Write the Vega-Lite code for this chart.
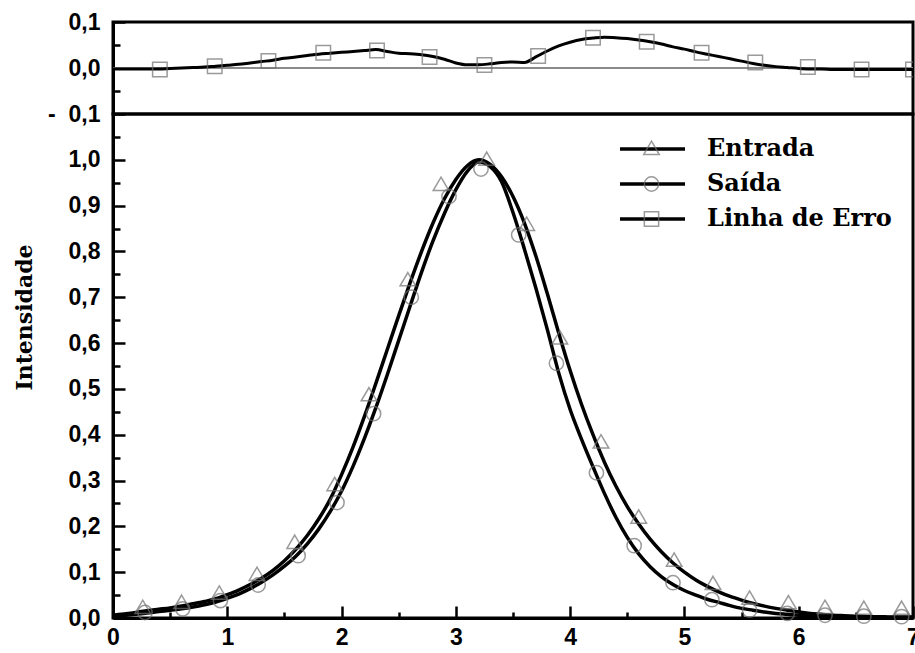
{
  "$schema": "https://vega.github.io/schema/vega-lite/v6.json",
  "background": "white",
  "padding": {"left": 11, "top": 9, "right": 4, "bottom": 2},
  "spacing": 0,
  "bounds": "flush",
  "datasets": {
    "curves": [
      {"x":0.0,"serie":"Entrada","y":0.006},{"x":0.1,"serie":"Entrada","y":0.009},{"x":0.2,"serie":"Entrada","y":0.012},{"x":0.3,"serie":"Entrada","y":0.016},{"x":0.4,"serie":"Entrada","y":0.019},{"x":0.5,"serie":"Entrada","y":0.022},{"x":0.6,"serie":"Entrada","y":0.026},{"x":0.7,"serie":"Entrada","y":0.031},{"x":0.8,"serie":"Entrada","y":0.036},{"x":0.9,"serie":"Entrada","y":0.042},
      {"x":1.0,"serie":"Entrada","y":0.051},{"x":1.1,"serie":"Entrada","y":0.061},{"x":1.2,"serie":"Entrada","y":0.073},{"x":1.3,"serie":"Entrada","y":0.087},{"x":1.4,"serie":"Entrada","y":0.104},{"x":1.5,"serie":"Entrada","y":0.125},{"x":1.6,"serie":"Entrada","y":0.150},{"x":1.7,"serie":"Entrada","y":0.180},{"x":1.8,"serie":"Entrada","y":0.216},{"x":1.9,"serie":"Entrada","y":0.259},
      {"x":2.0,"serie":"Entrada","y":0.313},{"x":2.1,"serie":"Entrada","y":0.373},{"x":2.2,"serie":"Entrada","y":0.440},{"x":2.3,"serie":"Entrada","y":0.512},{"x":2.4,"serie":"Entrada","y":0.586},{"x":2.5,"serie":"Entrada","y":0.660},{"x":2.6,"serie":"Entrada","y":0.732},{"x":2.7,"serie":"Entrada","y":0.800},{"x":2.8,"serie":"Entrada","y":0.862},{"x":2.9,"serie":"Entrada","y":0.915},
      {"x":3.0,"serie":"Entrada","y":0.957},{"x":3.1,"serie":"Entrada","y":0.987},{"x":3.2,"serie":"Entrada","y":1.000},{"x":3.3,"serie":"Entrada","y":0.990},{"x":3.4,"serie":"Entrada","y":0.963},{"x":3.5,"serie":"Entrada","y":0.920},{"x":3.6,"serie":"Entrada","y":0.862},{"x":3.7,"serie":"Entrada","y":0.790},{"x":3.8,"serie":"Entrada","y":0.708},{"x":3.9,"serie":"Entrada","y":0.622},
      {"x":4.0,"serie":"Entrada","y":0.540},{"x":4.1,"serie":"Entrada","y":0.466},{"x":4.2,"serie":"Entrada","y":0.400},{"x":4.3,"serie":"Entrada","y":0.340},{"x":4.4,"serie":"Entrada","y":0.288},{"x":4.5,"serie":"Entrada","y":0.243},{"x":4.6,"serie":"Entrada","y":0.205},{"x":4.7,"serie":"Entrada","y":0.172},{"x":4.8,"serie":"Entrada","y":0.144},{"x":4.9,"serie":"Entrada","y":0.120},
      {"x":5.0,"serie":"Entrada","y":0.100},{"x":5.1,"serie":"Entrada","y":0.083},{"x":5.2,"serie":"Entrada","y":0.069},{"x":5.3,"serie":"Entrada","y":0.057},{"x":5.4,"serie":"Entrada","y":0.047},{"x":5.5,"serie":"Entrada","y":0.039},{"x":5.6,"serie":"Entrada","y":0.032},{"x":5.7,"serie":"Entrada","y":0.026},{"x":5.8,"serie":"Entrada","y":0.021},{"x":5.9,"serie":"Entrada","y":0.017},
      {"x":6.0,"serie":"Entrada","y":0.013},{"x":6.1,"serie":"Entrada","y":0.010},{"x":6.2,"serie":"Entrada","y":0.008},{"x":6.3,"serie":"Entrada","y":0.006},{"x":6.4,"serie":"Entrada","y":0.005},{"x":6.5,"serie":"Entrada","y":0.004},{"x":6.6,"serie":"Entrada","y":0.003},{"x":6.7,"serie":"Entrada","y":0.003},{"x":6.8,"serie":"Entrada","y":0.002},{"x":6.9,"serie":"Entrada","y":0.002},{"x":7.0,"serie":"Entrada","y":0.002},
      {"x":0.0,"serie":"Saída","y":0.004},{"x":0.1,"serie":"Saída","y":0.006},{"x":0.2,"serie":"Saída","y":0.008},{"x":0.3,"serie":"Saída","y":0.011},{"x":0.4,"serie":"Saída","y":0.014},{"x":0.5,"serie":"Saída","y":0.017},{"x":0.6,"serie":"Saída","y":0.020},{"x":0.7,"serie":"Saída","y":0.024},{"x":0.8,"serie":"Saída","y":0.029},{"x":0.9,"serie":"Saída","y":0.035},
      {"x":1.0,"serie":"Saída","y":0.043},{"x":1.1,"serie":"Saída","y":0.052},{"x":1.2,"serie":"Saída","y":0.064},{"x":1.3,"serie":"Saída","y":0.078},{"x":1.4,"serie":"Saída","y":0.094},{"x":1.5,"serie":"Saída","y":0.113},{"x":1.6,"serie":"Saída","y":0.135},{"x":1.7,"serie":"Saída","y":0.162},{"x":1.8,"serie":"Saída","y":0.194},{"x":1.9,"serie":"Saída","y":0.232},
      {"x":2.0,"serie":"Saída","y":0.277},{"x":2.1,"serie":"Saída","y":0.331},{"x":2.2,"serie":"Saída","y":0.392},{"x":2.3,"serie":"Saída","y":0.459},{"x":2.4,"serie":"Saída","y":0.531},{"x":2.5,"serie":"Saída","y":0.606},{"x":2.6,"serie":"Saída","y":0.681},{"x":2.7,"serie":"Saída","y":0.755},{"x":2.8,"serie":"Saída","y":0.823},{"x":2.9,"serie":"Saída","y":0.883},
      {"x":3.0,"serie":"Saída","y":0.935},{"x":3.1,"serie":"Saída","y":0.975},{"x":3.2,"serie":"Saída","y":0.995},{"x":3.3,"serie":"Saída","y":0.985},{"x":3.4,"serie":"Saída","y":0.952},{"x":3.5,"serie":"Saída","y":0.885},{"x":3.6,"serie":"Saída","y":0.805},{"x":3.7,"serie":"Saída","y":0.720},{"x":3.8,"serie":"Saída","y":0.630},{"x":3.9,"serie":"Saída","y":0.535},
      {"x":4.0,"serie":"Saída","y":0.455},{"x":4.1,"serie":"Saída","y":0.390},{"x":4.2,"serie":"Saída","y":0.330},{"x":4.3,"serie":"Saída","y":0.272},{"x":4.4,"serie":"Saída","y":0.220},{"x":4.5,"serie":"Saída","y":0.176},{"x":4.6,"serie":"Saída","y":0.140},{"x":4.7,"serie":"Saída","y":0.112},{"x":4.8,"serie":"Saída","y":0.090},{"x":4.9,"serie":"Saída","y":0.073},
      {"x":5.0,"serie":"Saída","y":0.060},{"x":5.1,"serie":"Saída","y":0.050},{"x":5.2,"serie":"Saída","y":0.041},{"x":5.3,"serie":"Saída","y":0.034},{"x":5.4,"serie":"Saída","y":0.027},{"x":5.5,"serie":"Saída","y":0.021},{"x":5.6,"serie":"Saída","y":0.017},{"x":5.7,"serie":"Saída","y":0.013},{"x":5.8,"serie":"Saída","y":0.010},{"x":5.9,"serie":"Saída","y":0.008},
      {"x":6.0,"serie":"Saída","y":0.006},{"x":6.1,"serie":"Saída","y":0.005},{"x":6.2,"serie":"Saída","y":0.004},{"x":6.3,"serie":"Saída","y":0.003},{"x":6.4,"serie":"Saída","y":0.002},{"x":6.5,"serie":"Saída","y":0.002},{"x":6.6,"serie":"Saída","y":0.002},{"x":6.7,"serie":"Saída","y":0.001},{"x":6.8,"serie":"Saída","y":0.001},{"x":6.9,"serie":"Saída","y":0.001},{"x":7.0,"serie":"Saída","y":0.001}
    ],
    "markers": [
      {"x":0.26,"serie":"Entrada","y":0.022},{"x":0.6,"serie":"Entrada","y":0.033},{"x":0.93,"serie":"Entrada","y":0.053},{"x":1.26,"serie":"Entrada","y":0.094},{"x":1.59,"serie":"Entrada","y":0.164},{"x":1.94,"serie":"Entrada","y":0.29},{"x":2.24,"serie":"Entrada","y":0.486},{"x":2.58,"serie":"Entrada","y":0.737},{"x":2.87,"serie":"Entrada","y":0.945},{"x":3.27,"serie":"Entrada","y":1.0},{"x":3.62,"serie":"Entrada","y":0.858},
      {"x":3.91,"serie":"Entrada","y":0.61},{"x":4.27,"serie":"Entrada","y":0.383},{"x":4.6,"serie":"Entrada","y":0.219},{"x":4.91,"serie":"Entrada","y":0.125},{"x":5.25,"serie":"Entrada","y":0.074},{"x":5.57,"serie":"Entrada","y":0.042},{"x":5.91,"serie":"Entrada","y":0.032},{"x":6.23,"serie":"Entrada","y":0.022},{"x":6.57,"serie":"Entrada","y":0.02},{"x":6.9,"serie":"Entrada","y":0.02},
      {"x":0.28,"serie":"Saída","y":0.012},{"x":0.61,"serie":"Saída","y":0.02},{"x":0.94,"serie":"Saída","y":0.038},{"x":1.27,"serie":"Saída","y":0.072},{"x":1.62,"serie":"Saída","y":0.136},{"x":1.96,"serie":"Saída","y":0.252},{"x":2.28,"serie":"Saída","y":0.446},{"x":2.61,"serie":"Saída","y":0.70},{"x":2.94,"serie":"Saída","y":0.92},{"x":3.22,"serie":"Saída","y":0.98},{"x":3.55,"serie":"Saída","y":0.836},
      {"x":3.88,"serie":"Saída","y":0.556},{"x":4.23,"serie":"Saída","y":0.317},{"x":4.56,"serie":"Saída","y":0.158},{"x":4.9,"serie":"Saída","y":0.077},{"x":5.24,"serie":"Saída","y":0.04},{"x":5.57,"serie":"Saída","y":0.017},{"x":5.9,"serie":"Saída","y":0.01},{"x":6.23,"serie":"Saída","y":0.006},{"x":6.57,"serie":"Saída","y":0.004},{"x":6.9,"serie":"Saída","y":0.003}
    ],
    "erro": [
      {"x":0.0,"y":-0.002},{"x":0.1,"y":-0.002},{"x":0.2,"y":-0.002},{"x":0.3,"y":-0.002},{"x":0.4,"y":-0.002},{"x":0.5,"y":-0.001},{"x":0.6,"y":0.0},{"x":0.7,"y":0.001},{"x":0.8,"y":0.002},{"x":0.9,"y":0.004},
      {"x":1.0,"y":0.006},{"x":1.1,"y":0.008},{"x":1.2,"y":0.011},{"x":1.3,"y":0.014},{"x":1.4,"y":0.017},{"x":1.5,"y":0.021},{"x":1.6,"y":0.024},{"x":1.7,"y":0.027},{"x":1.8,"y":0.030},{"x":1.9,"y":0.032},
      {"x":2.0,"y":0.034},{"x":2.1,"y":0.036},{"x":2.2,"y":0.038},{"x":2.3,"y":0.040},{"x":2.4,"y":0.036},{"x":2.5,"y":0.032},{"x":2.6,"y":0.031},{"x":2.7,"y":0.029},{"x":2.8,"y":0.025},{"x":2.9,"y":0.019},
      {"x":3.0,"y":0.011},{"x":3.1,"y":0.007},{"x":3.2,"y":0.007},{"x":3.3,"y":0.009},{"x":3.4,"y":0.012},{"x":3.5,"y":0.013},{"x":3.6,"y":0.012},{"x":3.7,"y":0.024},{"x":3.8,"y":0.037},{"x":3.9,"y":0.048},
      {"x":4.0,"y":0.056},{"x":4.1,"y":0.062},{"x":4.2,"y":0.065},{"x":4.3,"y":0.067},{"x":4.4,"y":0.066},{"x":4.5,"y":0.064},{"x":4.6,"y":0.061},{"x":4.7,"y":0.057},{"x":4.8,"y":0.052},{"x":4.9,"y":0.046},
      {"x":5.0,"y":0.041},{"x":5.1,"y":0.035},{"x":5.2,"y":0.030},{"x":5.3,"y":0.025},{"x":5.4,"y":0.020},{"x":5.5,"y":0.015},{"x":5.6,"y":0.010},{"x":5.7,"y":0.006},{"x":5.8,"y":0.003},{"x":5.9,"y":0.001},
      {"x":6.0,"y":-0.001},{"x":6.1,"y":-0.002},{"x":6.2,"y":-0.002},{"x":6.3,"y":-0.003},{"x":6.4,"y":-0.003},{"x":6.5,"y":-0.003},{"x":6.6,"y":-0.003},{"x":6.7,"y":-0.003},{"x":6.8,"y":-0.003},{"x":6.9,"y":-0.003},{"x":7.0,"y":-0.003}
    ],
    "erroMarkers": [
      {"x":0.41,"y":-0.003},{"x":0.89,"y":0.004},{"x":1.36,"y":0.015},{"x":1.84,"y":0.033},{"x":2.31,"y":0.038},{"x":2.77,"y":0.024},{"x":3.25,"y":0.0065},{"x":3.72,"y":0.026},
      {"x":4.2,"y":0.066},{"x":4.67,"y":0.057},{"x":5.15,"y":0.033},{"x":5.62,"y":0.012},{"x":6.08,"y":0.002},{"x":6.55,"y":-0.003},{"x":7.0,"y":-0.003}
    ],
    "zero": [{"ref": 0}]
  },
  "config": {
    "view": {"stroke": "black", "strokeWidth": 3},
    "axis": {
      "domainColor": "black", "domainWidth": 3, "tickColor": "black", "tickWidth": 2.5,
      "labelColor": "black", "labelFont": "Liberation Sans", "labelFontWeight": "bold", "labelFontSize": 23,
      "labelFlush": false, "labelOverlap": false, "grid": false, "zindex": 1,
      "titleFont": "DejaVu Serif", "titleFontWeight": "bold", "titleFontSize": 22, "titleColor": "black"
    }
  },
  "resolve": {"scale": {"x": "independent", "y": "independent"}, "legend": {"color": "independent", "shape": "independent"}},
  "vconcat": [
    {
      "width": 800,
      "height": 92,
      "resolve": {"scale": {"y": "independent"}, "axis": {"y": "independent"}},
      "layer": [
        {
          "data": {"name": "zero"},
          "mark": {"type": "rule", "color": "#8a8a8a", "strokeWidth": 2},
          "encoding": {
            "y": {"field": "ref", "type": "quantitative", "scale": {"domain": [-0.1, 0.1], "nice": false, "zero": false}, "axis": null}
          }
        },
        {
          "data": {"name": "erro"},
          "mark": {"type": "line", "color": "black", "strokeWidth": 3, "interpolate": "monotone"},
          "encoding": {
            "x": {"field": "x", "type": "quantitative", "scale": {"domain": [0, 7], "nice": false, "zero": false}, "axis": null},
            "y": {"field": "y", "type": "quantitative", "scale": {"domain": [-0.1, 0.1], "nice": false, "zero": false},
              "axis": {"orient": "left", "values": [-0.1, 0, 0.1], "tickSize": -12, "labelPadding": 25, "title": null,
                "labelExpr": "datum.value < 0 ? '-\u00a0\u00a0' + replace(format(-datum.value, '.1f'), '.', ',') : replace(format(datum.value, '.1f'), '.', ',')"}}
          }
        },
        {
          "data": {"name": "erroMarkers"},
          "mark": {"type": "point", "shape": "square", "size": 210, "filled": false, "stroke": "#707070", "strokeWidth": 1.5, "clip": true},
          "encoding": {
            "x": {"field": "x", "type": "quantitative", "scale": {"domain": [0, 7], "nice": false, "zero": false}, "axis": null},
            "y": {"field": "y", "type": "quantitative", "scale": {"domain": [-0.1, 0.1], "nice": false, "zero": false},
              "axis": {"orient": "left", "values": [-0.05, 0.05], "labels": false, "domain": false, "tickSize": -7, "title": null}}
          }
        }
      ]
    },
    {
      "width": 800,
      "height": 504,
      "resolve": {"scale": {"x": "independent", "y": "independent"}, "axis": {"x": "independent", "y": "independent"}},
      "layer": [
        {
          "data": {"name": "curves"},
          "mark": {"type": "line", "strokeWidth": 3.5, "interpolate": "monotone"},
          "encoding": {
            "x": {"field": "x", "type": "quantitative", "scale": {"domain": [0, 7], "nice": false, "zero": false},
              "axis": {"orient": "bottom", "values": [0, 1, 2, 3, 4, 5, 6, 7], "tickSize": -12, "labelPadding": 20, "format": "d", "title": null}},
            "y": {"field": "y", "type": "quantitative", "scale": {"domain": [0, 1.1], "nice": false, "zero": false},
              "axis": {"orient": "left", "values": [0, 0.1, 0.2, 0.3, 0.4, 0.5, 0.6, 0.7, 0.8, 0.9, 1.0], "tickSize": -12, "labelPadding": 25,
                "labelExpr": "replace(format(datum.value, '.1f'), '.', ',')",
                "title": "Intensidade", "titleX": -89, "titleY": 203, "titleAngle": 270, "titleAlign": "center", "titleBaseline": "middle"}},
            "color": {"field": "serie", "type": "nominal",
              "scale": {"domain": ["Saída", "Entrada", "Linha de Erro"], "range": ["black", "black", "black"]},
              "legend": {"title": null, "orient": "none", "legendX": 505, "legendY": 23, "padding": 0,
                "values": ["Entrada", "Saída", "Linha de Erro"],
                "symbolType": "stroke", "symbolSize": 4225, "symbolStrokeWidth": 3.5, "symbolStrokeColor": "black",
                "labelFont": "DejaVu Serif", "labelFontWeight": "bold", "labelFontSize": 24, "labelColor": "black",
                "labelOffset": 20, "labelLimit": 400, "clipHeight": 24, "rowPadding": 11}}
          }
        },
        {
          "data": {"name": "markers"},
          "mark": {"type": "point", "size": 4225, "filled": false, "stroke": "#707070", "strokeWidth": 1.5},
          "encoding": {
            "x": {"field": "x", "type": "quantitative", "scale": {"domain": [0, 7], "nice": false, "zero": false},
              "axis": {"orient": "bottom", "values": [0.5, 1.5, 2.5, 3.5, 4.5, 5.5, 6.5], "labels": false, "domain": false, "tickSize": -6, "title": null}},
            "y": {"field": "y", "type": "quantitative", "scale": {"domain": [0, 1.1], "nice": false, "zero": false},
              "axis": {"orient": "left", "values": [0.05, 0.15, 0.25, 0.35, 0.45, 0.55, 0.65, 0.75, 0.85, 0.95, 1.05], "labels": false, "domain": false, "tickSize": -7, "title": null}},
            "shape": {"field": "serie", "type": "nominal",
              "scale": {"domain": ["Entrada", "Saída", "Linha de Erro"],
                "range": ["M0,-0.24L0.24,0.17L-0.24,0.17Z", "M-0.22,0A0.22,0.22,0,1,0,0.22,0A0.22,0.22,0,1,0,-0.22,0Z", "M-0.22,-0.22H0.22V0.22H-0.22Z"]},
              "legend": {"title": null, "orient": "none", "legendX": 505, "legendY": 23, "padding": 0,
                "values": ["Entrada", "Saída", "Linha de Erro"],
                "symbolSize": 4225, "symbolStrokeColor": "#707070", "symbolStrokeWidth": 1.5, "symbolFillColor": "transparent",
                "labelFont": "DejaVu Serif", "labelFontWeight": "bold", "labelFontSize": 24, "labelColor": "black",
                "labelExpr": "''", "labelOffset": 20, "labelLimit": 400, "clipHeight": 24, "rowPadding": 11}}
          }
        }
      ]
    }
  ]
}
